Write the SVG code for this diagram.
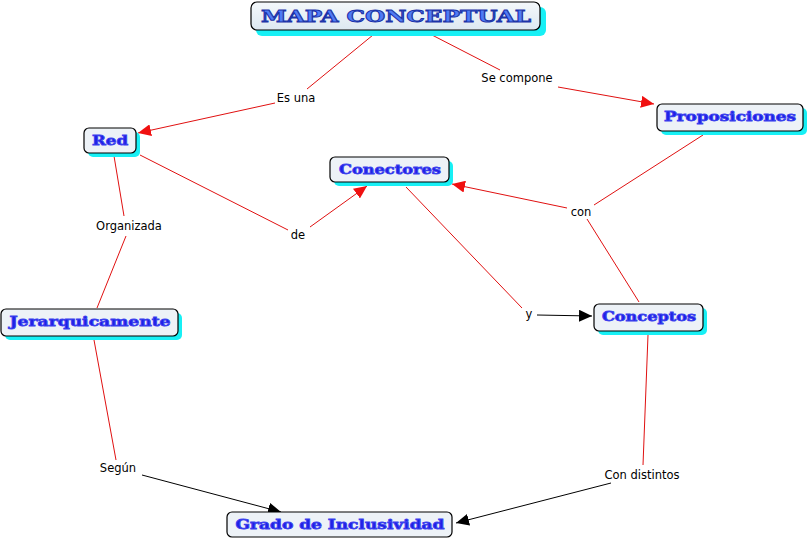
<svg xmlns="http://www.w3.org/2000/svg" width="810" height="540" viewBox="0 0 810 540">
<style>
.box{fill:#edf2f7;stroke:#000;stroke-width:1.2}
.sh{fill:#17f0f5}
.nt{font-family:"DejaVu Serif",serif;font-weight:bold;font-size:13px;fill:#1f1fe6;stroke:#3a40ee;stroke-width:0.8}
.lb{font-family:"DejaVu Sans",Verdana,sans-serif;font-size:11.5px;fill:#000}
.r{stroke:#e01010;stroke-width:1;fill:none}
.k{stroke:#000;stroke-width:1;fill:none}
</style>
<defs>
<marker id="ar" markerUnits="userSpaceOnUse" markerWidth="14" markerHeight="12" refX="13" refY="6" orient="auto"><path d="M0,0 L13,6 L0,12 z" fill="#f01010"/></marker>
<marker id="ak" markerUnits="userSpaceOnUse" markerWidth="14" markerHeight="12" refX="13" refY="6" orient="auto"><path d="M0,0 L13,6 L0,12 z" fill="#000"/></marker>
<linearGradient id="tg" x1="0" y1="0" x2="0" y2="1"><stop offset="0" stop-color="#f4f8fb"/><stop offset="1" stop-color="#dde8f1"/></linearGradient>
</defs>
<rect width="810" height="540" fill="#fff"/>
<g id="connectors">
<line class="r" x1="373" y1="35" x2="307" y2="89"/>
<line class="r" x1="275" y1="103" x2="138" y2="133" marker-end="url(#ar)"/>
<line class="r" x1="432" y1="35" x2="500" y2="70"/>
<line class="r" x1="558" y1="87" x2="654" y2="104" marker-end="url(#ar)"/>
<line class="r" x1="703" y1="135" x2="594" y2="205"/>
<line class="r" x1="567" y1="208" x2="452" y2="184" marker-end="url(#ar)"/>
<line class="r" x1="639" y1="302" x2="587" y2="219"/>
<line class="r" x1="140" y1="155" x2="288" y2="230"/>
<line class="r" x1="310" y1="227" x2="367" y2="186" marker-end="url(#ar)"/>
<line class="r" x1="114" y1="156" x2="124" y2="216"/>
<line class="r" x1="126" y1="236" x2="97" y2="308"/>
<line class="r" x1="406" y1="187" x2="522" y2="308"/>
<line class="k" x1="537" y1="315" x2="592" y2="316" marker-end="url(#ak)"/>
<line class="r" x1="94" y1="340" x2="116" y2="460"/>
<line class="k" x1="142" y1="475" x2="281" y2="512" marker-end="url(#ak)"/>
<line class="r" x1="648" y1="335" x2="643" y2="465"/>
<line class="k" x1="611" y1="483" x2="456" y2="523" marker-end="url(#ak)"/>
</g>
<g id="labels">
<text class="lb" x="296" y="102" text-anchor="middle">Es una</text>
<text class="lb" x="517" y="82" text-anchor="middle">Se compone</text>
<text class="lb" x="581" y="216" text-anchor="middle">con</text>
<text class="lb" x="298" y="239" text-anchor="middle">de</text>
<text class="lb" x="129" y="230" text-anchor="middle">Organizada</text>
<text class="lb" x="529" y="318" text-anchor="middle">y</text>
<text class="lb" x="118" y="472" text-anchor="middle">Según</text>
<text class="lb" x="642" y="479" text-anchor="middle">Con distintos</text>
</g>
<g id="n-title">
<rect class="sh" x="256" y="7" width="290" height="29" rx="6"/>
<rect x="251" y="2" width="289" height="28" rx="6" fill="url(#tg)" stroke="#000" stroke-width="1.2"/>
<text x="396" y="22" text-anchor="middle" textLength="270" lengthAdjust="spacingAndGlyphs" style="font-family:'DejaVu Serif',serif;font-weight:bold;font-size:17px;fill:#4f7bf5;stroke:#1c33a8;stroke-width:0.9">MAPA CONCEPTUAL</text>
</g>
<g id="n-red">
<rect class="sh" x="88" y="132" width="52" height="25" rx="5"/>
<rect class="box" x="84" y="128" width="52" height="25" rx="5"/>
<text class="nt" x="110" y="145" text-anchor="middle" textLength="36" lengthAdjust="spacingAndGlyphs">Red</text>
</g>
<g id="n-conectores">
<rect class="sh" x="334" y="161" width="119" height="25" rx="5"/>
<rect class="box" x="330" y="157" width="119" height="25" rx="5"/>
<text class="nt" x="390" y="174" text-anchor="middle" textLength="102" lengthAdjust="spacingAndGlyphs">Conectores</text>
</g>
<g id="n-proposiciones">
<rect class="sh" x="661" y="108" width="146" height="27" rx="5"/>
<rect class="box" x="657" y="104" width="146" height="27" rx="5"/>
<text class="nt" x="730" y="121" text-anchor="middle" textLength="132" lengthAdjust="spacingAndGlyphs">Proposiciones</text>
</g>
<g id="n-conceptos">
<rect class="sh" x="598" y="308" width="109" height="27" rx="5"/>
<rect class="box" x="594" y="304" width="109" height="27" rx="5"/>
<text class="nt" x="649" y="321" text-anchor="middle" textLength="94" lengthAdjust="spacingAndGlyphs">Conceptos</text>
</g>
<g id="n-jerarquicamente">
<rect class="sh" x="5" y="313" width="177" height="27" rx="5"/>
<rect class="box" x="1" y="309" width="177" height="27" rx="5"/>
<text class="nt" x="90" y="326" text-anchor="middle" textLength="161" lengthAdjust="spacingAndGlyphs">Jerarquicamente</text>
</g>
<g id="n-grado">
<rect class="box" x="227" y="512" width="225" height="25" rx="5"/>
<text class="nt" x="340" y="529" text-anchor="middle" textLength="209" lengthAdjust="spacingAndGlyphs">Grado de Inclusividad</text>
</g>
</svg>
